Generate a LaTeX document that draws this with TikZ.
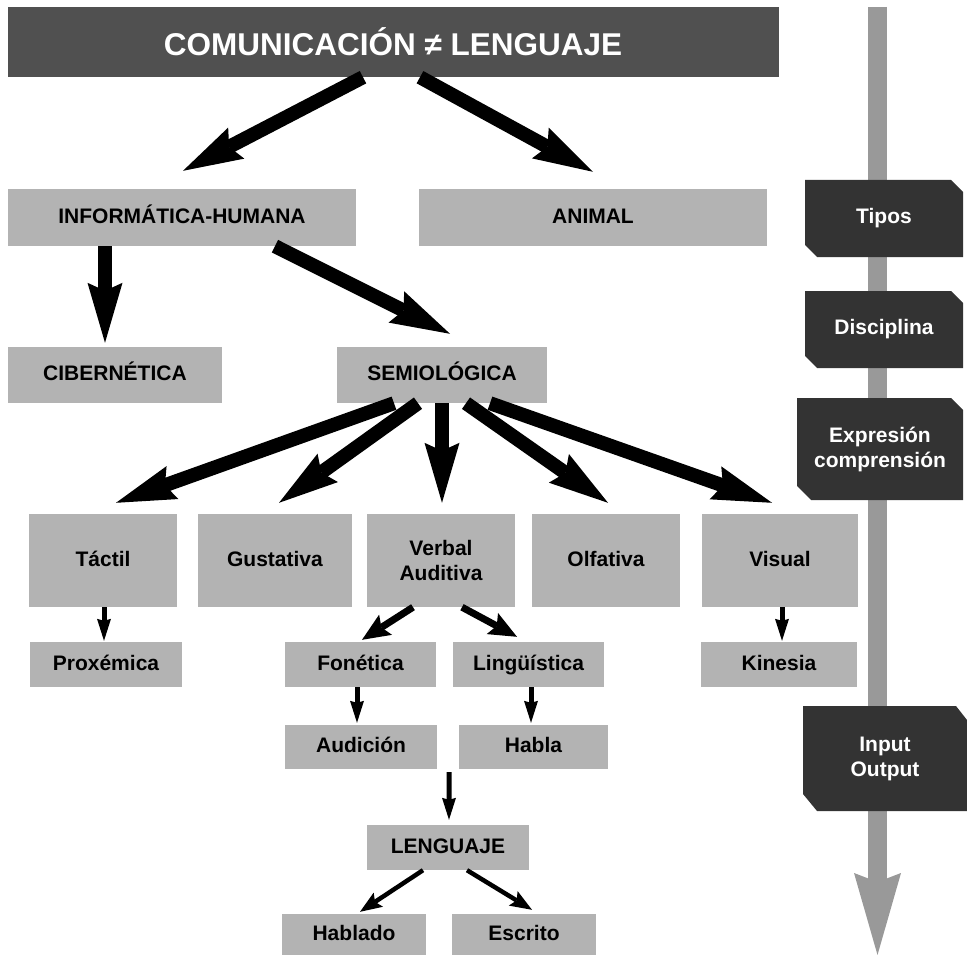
\documentclass[tikz,border=0pt]{standalone}
\usepackage{fontspec}
\setmainfont{Liberation Sans}
\usetikzlibrary{arrows.meta,calc}
\definecolor{boxgray}{RGB}{179,179,179}
\definecolor{titlegray}{RGB}{80,80,80}
\definecolor{sidegray}{RGB}{51,51,51}
\definecolor{bargray}{RGB}{153,153,153}
\begin{document}
\begin{tikzpicture}[x=1pt,y=-1pt,
  boxbase/.style={fill=boxgray, inner sep=0pt, align=center, text=black, font=\fontsize{21}{25}\selectfont\bfseries},
  box/.style={boxbase, text height=15pt, text depth=4pt},
  box2/.style={boxbase},
  wh/.style 2 args={minimum width=#1pt, minimum height=#2pt},
  side/.style={fill=sidegray},
  sidetext/.style={text=white, align=center, inner sep=0pt, font=\fontsize{21}{25}\selectfont\bfseries},
  bigarrow/.style={line width=14pt, -{Stealth[length=60pt,width=35pt,inset=8pt,line width=0pt]}},
  midarrow/.style={line width=7pt, -{Stealth[length=28pt,width=24pt,inset=5pt,line width=0pt]}},
  smallarrow/.style={line width=5pt, -{Stealth[length=22pt,width=14pt,inset=2pt,line width=0pt]}},
  thinarrow/.style={line width=4.5pt, -{Stealth[length=22pt,width=17pt,inset=4pt,line width=0pt]}},
  axisbar/.style={draw=bargray, line width=19pt, -{Stealth[length=82pt,width=47pt,inset=9pt,line width=0pt]}}
]
\useasboundingbox (0,0) rectangle (967,955);

% right axis
\coordinate (bartop) at (877.5,7);
\coordinate (barend) at (877.5,955);
\draw[axisbar] (bartop) -- (barend);

% right side labels
\fill[side] (805,180) -- (951,180) -- (963,192) -- (963,257) -- (817,257) -- (805,245) -- cycle;
\node[sidetext] (tipos) at (884,218.5) {Tipos};
\fill[side] (805,291) -- (951,291) -- (963,303) -- (963,368) -- (817,368) -- (805,356) -- cycle;
\node[sidetext] (disc) at (884,329.5) {Disciplina};
\fill[side] (797,398) -- (951,398) -- (963,410) -- (963,500) -- (811,500) -- (797,486) -- cycle;
\node[sidetext] (expr) at (880,449) {Expresión\\comprensión};
\fill[side] (803,706) -- (956,706) -- (967,720) -- (967,811) -- (817,811) -- (803,794) -- cycle;
\node[sidetext] (inout) at (885,758.5) {Input\\Output};

% title
\node[fill=titlegray, inner sep=0pt, wh={771}{70}, text=white,
      font=\fontsize{31.5}{36}\selectfont\bfseries] (title) at (393,42) {COMUNICACIÓN ≠ LENGUAJE};

% boxes
\node[box, wh={348}{57}] (inf) at (182,217.5) {INFORMÁTICA-HUMANA};
\node[box, wh={348}{57}] (animal) at (593,217.5) {ANIMAL};
\node[box, wh={214}{56}] (cib) at (115,375) {CIBERNÉTICA};
\node[box, wh={210}{56}] (sem) at (442,375) {SEMIOLÓGICA};

\node[box, wh={148}{93}] (tactil) at (103,560.5) {Táctil};
\node[box, wh={154}{93}] (gust) at (275,560.5) {Gustativa};
\node[box2, wh={148}{93}] (verbal) at (441,560.5) {Verbal\\Auditiva};
\node[box, wh={148}{93}] (olf) at (606,560.5) {Olfativa};
\node[box, wh={156}{93}] (visual) at (780,560.5) {Visual};

\node[box, wh={152}{45}] (prox) at (106,664.5) {Proxémica};
\node[box, wh={156}{45}] (kin) at (779,664.5) {Kinesia};
\node[box, wh={151}{45}] (fon) at (360.5,664.5) {Fonética};
\node[box, wh={151}{45}] (ling) at (528.5,664.5) {Lingüística};
\node[box, wh={152}{44}] (aud) at (361,747) {Audición};
\node[box, wh={149}{44}] (habla) at (533.5,747) {Habla};
\node[box, wh={162}{45}] (leng) at (448,847.5) {LENGUAJE};
\node[box, wh={144}{41}] (hablado) at (354,934.5) {Hablado};
\node[box, wh={144}{41}] (escrito) at (524,934.5) {Escrito};

% connectors
\draw[bigarrow] ([xshift=-30pt]title.south) -- ([xshift=1pt,yshift=18pt]inf.north);
\draw[bigarrow] ([xshift=27pt]title.south) -- ([yshift=17pt]animal.north);
\draw[bigarrow] ([xshift=-77pt]inf.south) -- ([xshift=-10pt,yshift=4pt]cib.north);
\draw[bigarrow] ([xshift=93pt]inf.south) -- ([xshift=8pt,yshift=13pt]sem.north);

\draw[bigarrow] ([xshift=-48pt]sem.south) -- ([xshift=13pt,yshift=11pt]tactil.north);
\draw[bigarrow] ([xshift=-24pt]sem.south) -- ([xshift=4pt,yshift=11pt]gust.north);
\draw[bigarrow] (sem.south) -- ([xshift=1pt,yshift=11pt]verbal.north);
\draw[bigarrow] ([xshift=24pt]sem.south) -- ([xshift=2pt,yshift=11pt]olf.north);
\draw[bigarrow] ([xshift=48pt]sem.south) -- ([xshift=-8pt,yshift=11pt]visual.north);

\draw[midarrow] ([xshift=-28pt]verbal.south) -- ([xshift=1.5pt,yshift=2pt]fon.north);
\draw[midarrow] ([xshift=21pt]verbal.south) -- ([xshift=-11.5pt,yshift=5pt]ling.north);

\draw[smallarrow] ([xshift=1pt]tactil.south) -- ([xshift=-2pt,yshift=1pt]prox.north);
\draw[smallarrow] ([xshift=2pt]visual.south) -- ([xshift=3pt,yshift=1pt]kin.north);
\draw[smallarrow] ([xshift=-3.5pt]fon.south) -- ([xshift=-4pt,yshift=2pt]aud.north);
\draw[smallarrow] ([xshift=2.5pt]ling.south) -- ([xshift=-2.5pt,yshift=2pt]habla.north);

\coordinate (join) at ($(aud.south east)!0.5!(habla.south west)+(1,3)$);
\draw[smallarrow] (join) -- ([xshift=1pt,yshift=5pt]leng.north);

\draw[thinarrow] ([xshift=-25pt]leng.south) -- ([xshift=6pt,yshift=2pt]hablado.north);
\draw[thinarrow] ([xshift=19pt]leng.south) -- ([xshift=8pt,yshift=4pt]escrito.north);
\end{tikzpicture}
\end{document}
